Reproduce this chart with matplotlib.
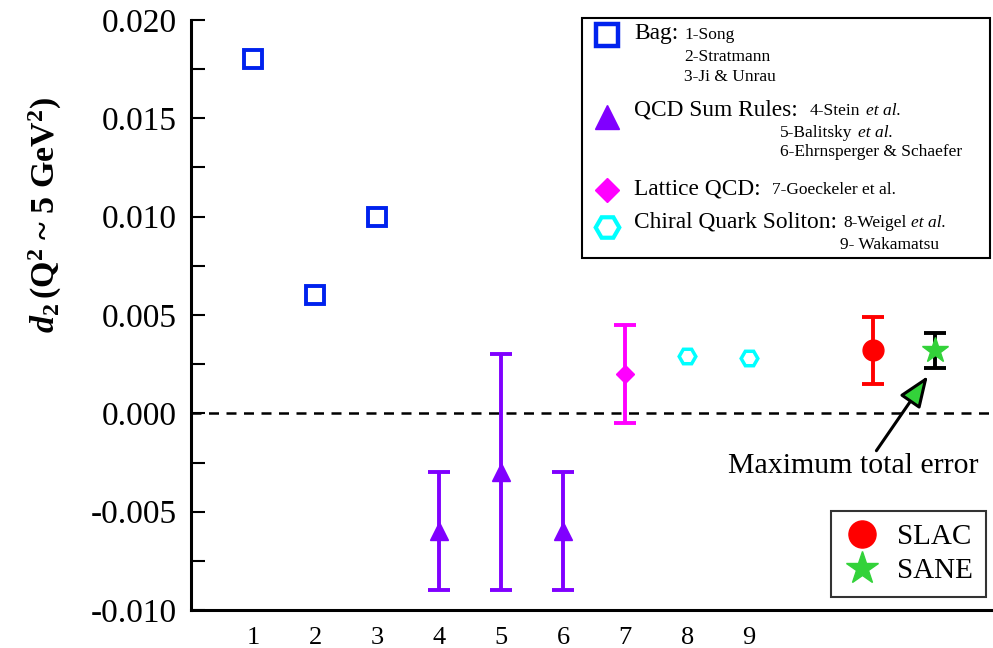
#!/usr/bin/env python3
"""d2 at Q^2 ~ 5 GeV^2: model predictions (1-9) against SLAC and SANE."""

import matplotlib

matplotlib.use("Agg")
import matplotlib.pyplot as plt
from matplotlib.patches import Rectangle
from matplotlib.ticker import FormatStrFormatter, MultipleLocator

plt.rcParams["font.family"] = ["Liberation Serif", "DejaVu Serif"]
plt.rcParams["axes.unicode_minus"] = False
plt.rcParams["mathtext.fontset"] = "custom"
plt.rcParams["mathtext.rm"] = "Liberation Serif:bold"
plt.rcParams["mathtext.it"] = "Liberation Serif:italic:bold"

# model predictions, numbered as in the legend
bag_x = [1, 2, 3]
bag_y = [0.018, 0.006, 0.010]

qcdsr_x = [4, 5, 6]
qcdsr_y = [-0.006, -0.003, -0.006]
qcdsr_err = [0.003, 0.006, 0.003]

lattice_x = [7]
lattice_y = [0.002]
lattice_err = [0.0025]

cqsm_x = [8, 9]
cqsm_y = [0.0029, 0.0028]

# measurements
slac_x, slac_y, slac_err = [11], [0.0032], [0.0017]
sane_x, sane_y, sane_err = [12], [0.0032], [0.0009]

xtick_pos = [1, 2, 3, 4, 5, 6, 7, 8, 9]
xtick_labels = ["1", "2", "3", "4", "5", "6", "7", "8", "9"]

BLUE = "#0022ee"
PURPLE = "#8000ff"
MAGENTA = "#ff00ff"
CYAN = "#00ffff"
RED = "#ff0000"
GREEN = "#33d23a"

W, H = 993, 648
fig = plt.figure(figsize=(W / 100, H / 100), dpi=100)
ax = fig.add_axes([191 / W, 38 / H, 1 - 191 / W, 590 / H])


def px(x, y):
    """pixel position in the reference picture -> figure fraction"""
    return x / W, 1 - y / H


ax.plot(bag_x, bag_y, "s", ms=13, mfc="none", mec=BLUE, mew=2.8, ls="none")
ax.errorbar(qcdsr_x, qcdsr_y, yerr=qcdsr_err, fmt="^", ms=13, color=PURPLE,
            elinewidth=2.8, capsize=8, capthick=2.8)
ax.errorbar(lattice_x, lattice_y, yerr=lattice_err, fmt="D", ms=9, color=MAGENTA,
            elinewidth=2.8, capsize=8, capthick=2.8)
ax.plot(cqsm_x, cqsm_y, "H", ms=12, mfc="none", mec=CYAN, mew=2.5, ls="none")
slac = ax.errorbar(slac_x, slac_y, yerr=slac_err, fmt="o", ms=15, color=RED,
                   elinewidth=2.8, capsize=8, capthick=2.8, label="SLAC")
ax.errorbar(sane_x, sane_y, yerr=sane_err, fmt="none", ecolor="black",
            elinewidth=2.8, capsize=8, capthick=2.8)
sane = ax.plot(sane_x, sane_y, "*", ms=19, color=GREEN, ls="none", label="SANE")[0]

ax.axhline(0, color="black", lw=1.8, ls=(0, (4, 3)))

ax.text(10.67, -0.0027, "Maximum total error", fontsize=21.5, ha="center", va="center")
ax.annotate("", xy=(11.88, 0.0019), xytext=(11.05, -0.0019),
            arrowprops=dict(arrowstyle="-|>,head_length=1.9,head_width=0.75",
                            fc=GREEN, ec="black", lw=2.2, shrinkA=0, shrinkB=0))

leg = ax.legend(handles=[slac[0], sane], labels=["SLAC", "SANE"], loc="lower right",
                bbox_to_anchor=(0.991, 0.022), fontsize=21, frameon=True, fancybox=False,
                markerscale=1.3, handletextpad=0.6, borderpad=0.45, labelspacing=0.25,
                handlelength=1.2, borderaxespad=0)
leg.get_frame().set_edgecolor("black")
leg.get_frame().set_linewidth(1.5)

ax.set_xlim(0, 12.93)
ax.set_ylim(-0.010, 0.020)
ax.set_xticks(xtick_pos, xtick_labels)
ax.yaxis.set_major_locator(MultipleLocator(0.005))
ax.yaxis.set_minor_locator(MultipleLocator(0.0025))
ax.yaxis.set_major_formatter(FormatStrFormatter("%.3f"))
ax.tick_params(axis="y", which="both", direction="in", length=10, width=1.5, labelsize=24, pad=10)
ax.tick_params(axis="x", length=0, labelsize=19, pad=12)
for side in ("top", "right"):
    ax.spines[side].set_visible(False)
for side in ("left", "bottom"):
    ax.spines[side].set_linewidth(2.2)

ax.set_ylabel(r"$d_2\,$(Q$^2$ ~ 5 GeV$^2$)", fontsize=24.5, fontweight="bold")
ax.yaxis.set_label_coords(-0.158, 0.67)

# model legend box, laid out by hand because of the mixed fonts
fig.patches.append(Rectangle(px(582, 258), 408 / W, 240 / H, transform=fig.transFigure,
                             fill=False, ec="black", lw=1.5))
mk = [("s", 35, dict(mfc="none", mec=BLUE, mew=3.2, ms=16)),
      ("^", 117, dict(color=PURPLE, ms=17)),
      ("D", 190, dict(color=MAGENTA, ms=12)),
      ("H", 227, dict(mfc="none", mec=CYAN, mew=3.0, ms=17))]
for marker, y, kw in mk:
    fig.add_artist(plt.Line2D([px(607, y)[0]], [px(607, y)[1]], marker=marker,
                              transform=fig.transFigure, ls="none", **kw))

big, small = 16.8, 12.5
entries = [
    (634, 34, "Bag:", big, False),
    (684, 35, "1-Song", small, False),
    (684, 57, "2-Stratmann", small, False),
    (684, 77, "3-Ji & Unrau", small, False),
    (634, 110, "QCD Sum Rules:", big, False),
    (810, 111, "4-Stein", small, True),
    (780, 133, "5-Balitsky", small, True),
    (780, 152, "6-Ehrnsperger & Schaefer", small, False),
    (634, 189, "Lattice QCD:", big, False),
    (772, 190, "7-Goeckeler et al.", small, False),
    (634, 222, "Chiral Quark Soliton:", big, False),
    (843, 223, "8-Weigel", small, True),
    (840, 245, "9- Wakamatsu", small, False),
]
renderer = fig.canvas.get_renderer()
for x, y, s, size, etal in entries:
    t = fig.text(*px(x, y), s, fontsize=size, ha="left", va="center")
    if etal:
        x1 = t.get_window_extent(renderer).x1
        fig.text(x1 / W + 5 / W, px(x, y)[1], "et al.", fontsize=size, style="italic",
                 ha="left", va="center")

fig.savefig("out.png", dpi=100)
